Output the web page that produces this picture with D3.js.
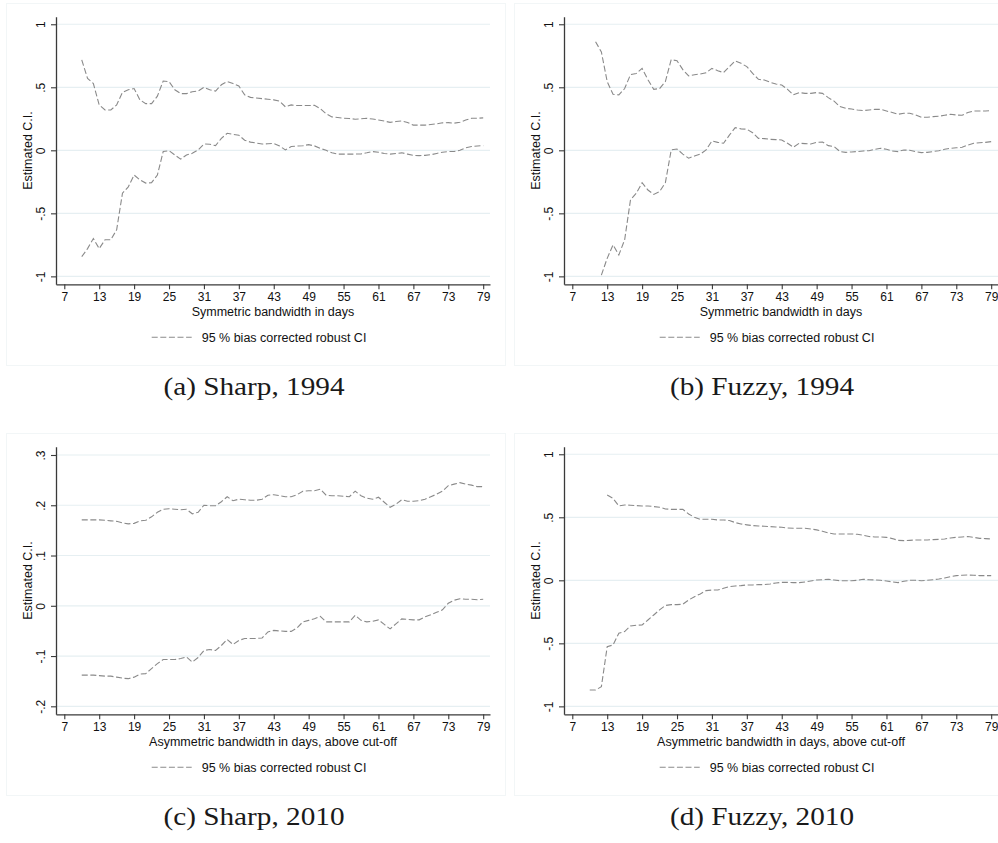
<!DOCTYPE html>
<html><head><meta charset="utf-8">
<script src="https://cdn.jsdelivr.net/npm/d3@7"></script>
<style>body{margin:0;background:#fff}svg{display:block}</style>
</head><body>
<svg id="chart" width="998" height="843"></svg>
<script>
// ---------- data ----------
const xTickValues = [7, 13, 19, 25, 31, 37, 43, 49, 55, 61, 67, 73, 79];

const yTicksWide = [-1, -0.5, 0, 0.5, 1];
const yTickLabelsWide = ["-1", "-.5", "0", ".5", "1"];
const yTicksNarrow = [-0.2, -0.1, 0, 0.1, 0.2, 0.3];
const yTickLabelsNarrow = ["-.2", "-.1", "0", ".1", ".2", ".3"];

const captions = ["(a) Sharp, 1994", "(b) Fuzzy, 1994", "(c) Sharp, 2010", "(d) Fuzzy, 2010"];
const xTitles = ["Symmetric bandwidth in days", "Symmetric bandwidth in days",
  "Asymmetric bandwidth in days, above cut-off", "Asymmetric bandwidth in days, above cut-off"];
const yTitle = "Estimated C.I.";
const legendLabel = "95 % bias corrected robust CI";

// first day of each series
const aUpperStart = 10, aLowerStart = 10;
const bUpperStart = 11, bLowerStart = 12;
const cUpperStart = 10, cLowerStart = 10;
const dUpperStart = 13, dLowerStart = 10;

const aUpper = [0.717,0.57,0.53,0.36,0.32,0.32,0.36,0.46,0.48,0.49,
  0.40,0.37,0.37,0.43,0.55,0.545,0.48,0.45,0.45,0.465,
  0.47,0.50,0.48,0.47,0.52,0.545,0.53,0.51,0.44,0.42,
  0.415,0.41,0.405,0.40,0.39,0.345,0.36,0.355,0.355,0.355,
  0.357,0.33,0.29,0.265,0.26,0.255,0.252,0.247,0.25,0.254,
  0.248,0.24,0.232,0.222,0.228,0.233,0.22,0.20,0.20,0.20,
  0.205,0.21,0.218,0.22,0.215,0.222,0.24,0.254,0.255,0.257];
const aLower = [-0.844,-0.78,-0.70,-0.78,-0.71,-0.71,-0.63,-0.34,-0.29,-0.196,
  -0.235,-0.26,-0.257,-0.196,-0.01,-0.003,-0.037,-0.07,-0.037,-0.024,
  0.003,0.05,0.048,0.037,0.095,0.135,0.127,0.12,0.08,0.065,
  0.058,0.05,0.052,0.055,0.035,0.003,0.03,0.034,0.036,0.045,
  0.035,0.015,0.0,-0.02,-0.03,-0.03,-0.03,-0.03,-0.028,-0.02,
  -0.01,-0.015,-0.025,-0.03,-0.025,-0.02,-0.03,-0.04,-0.042,-0.04,
  -0.035,-0.025,-0.015,-0.01,-0.01,0.0,0.02,0.03,0.034,0.037];

const bUpper = [0.862,0.78,0.545,0.444,0.44,0.49,0.60,0.61,0.65,
  0.56,0.484,0.49,0.545,0.72,0.71,0.64,0.59,0.60,0.605,
  0.616,0.65,0.632,0.616,0.664,0.71,0.69,0.664,0.61,0.563,
  0.558,0.54,0.526,0.518,0.484,0.44,0.458,0.452,0.452,0.458,
  0.452,0.418,0.39,0.347,0.333,0.328,0.32,0.315,0.32,0.325,
  0.325,0.312,0.30,0.286,0.294,0.294,0.28,0.262,0.262,0.267,
  0.27,0.278,0.286,0.28,0.278,0.30,0.312,0.312,0.312,0.315];
const bLower = [-0.99,-0.857,-0.75,-0.83,-0.71,-0.394,-0.34,-0.257,
  -0.315,-0.35,-0.328,-0.257,0.003,0.01,-0.03,-0.063,-0.045,-0.03,
  0.003,0.074,0.063,0.056,0.12,0.18,0.17,0.167,0.14,0.095,
  0.093,0.087,0.085,0.082,0.056,0.024,0.056,0.053,0.05,0.063,
  0.066,0.037,0.03,-0.01,-0.016,-0.013,-0.01,-0.005,-0.003,0.008,
  0.016,0.008,-0.005,-0.01,0.003,0.0,-0.01,-0.018,-0.016,-0.01,
  -0.003,0.008,0.016,0.02,0.024,0.042,0.056,0.06,0.063,0.069];

const cUpper = [0.171,0.171,0.171,0.171,0.17,0.169,0.168,0.165,0.163,0.164,
  0.169,0.17,0.177,0.186,0.192,0.193,0.192,0.191,0.192,0.183,
  0.186,0.2,0.199,0.199,0.207,0.217,0.209,0.212,0.211,0.21,
  0.21,0.212,0.22,0.221,0.219,0.217,0.217,0.221,0.228,0.229,
  0.229,0.232,0.22,0.219,0.219,0.218,0.217,0.228,0.219,0.214,
  0.212,0.216,0.206,0.196,0.202,0.211,0.208,0.208,0.209,0.212,
  0.217,0.222,0.228,0.239,0.242,0.245,0.242,0.24,0.237,0.237];
const cLower = [-0.138,-0.138,-0.138,-0.139,-0.14,-0.14,-0.142,-0.144,-0.145,-0.142,
  -0.136,-0.135,-0.125,-0.115,-0.107,-0.107,-0.107,-0.105,-0.102,-0.112,
  -0.103,-0.089,-0.087,-0.089,-0.079,-0.067,-0.077,-0.069,-0.065,-0.065,
  -0.065,-0.064,-0.052,-0.049,-0.05,-0.051,-0.051,-0.044,-0.032,-0.029,
  -0.026,-0.021,-0.032,-0.032,-0.032,-0.032,-0.032,-0.019,-0.029,-0.032,
  -0.031,-0.028,-0.037,-0.046,-0.036,-0.026,-0.027,-0.028,-0.028,-0.022,
  -0.018,-0.013,-0.008,0.005,0.011,0.014,0.013,0.013,0.012,0.013];

const dUpper = [0.677,0.65,0.59,0.598,0.595,0.593,0.59,
  0.59,0.585,0.58,0.566,0.563,0.563,0.563,0.526,0.50,0.484,
  0.484,0.484,0.479,0.479,0.474,0.458,0.447,0.44,0.434,0.431,
  0.429,0.426,0.423,0.421,0.415,0.413,0.413,0.413,0.407,0.40,
  0.389,0.376,0.368,0.368,0.368,0.368,0.365,0.357,0.347,0.344,
  0.344,0.341,0.331,0.317,0.315,0.317,0.32,0.32,0.32,0.323,
  0.325,0.328,0.336,0.341,0.344,0.347,0.341,0.333,0.331,0.328];
const dLower = [-0.87,-0.87,-0.844,-0.526,-0.513,-0.42,-0.407,-0.362,-0.357,-0.354,
  -0.315,-0.275,-0.235,-0.2,-0.193,-0.193,-0.19,-0.156,-0.13,-0.108,
  -0.082,-0.077,-0.077,-0.063,-0.05,-0.045,-0.042,-0.037,-0.037,-0.034,
  -0.034,-0.029,-0.021,-0.016,-0.016,-0.018,-0.018,-0.013,-0.005,0.003,
  0.005,0.008,0.003,-0.003,-0.003,-0.003,0.0,0.008,0.005,0.003,
  0.0,-0.005,-0.013,-0.018,-0.008,0.0,0.0,-0.003,0.0,0.005,
  0.01,0.018,0.029,0.037,0.04,0.042,0.04,0.037,0.037,0.037];

// ---------- layout ----------
const W = 998, H = 843;
const panelOffsets = [[0,0],[508,0],[0,430],[508,430]];
const plotL = 56, plotR = 490, plotT = 16.7, plotB = 284.3;
const xDomain = [5.575, 80.17];
const yDomainWide = [-1.063, 1.06];
const yDomainNarrow = [-0.2159, 0.3165];

const toPts = (start, vals) => vals.map((v, i) => ({x: start + i, y: v}));

const panels = [
  {series: [toPts(aUpperStart, aUpper), toPts(aLowerStart, aLower)], yDom: yDomainWide, yT: yTicksWide, yL: yTickLabelsWide},
  {series: [toPts(bUpperStart, bUpper), toPts(bLowerStart, bLower)], yDom: yDomainWide, yT: yTicksWide, yL: yTickLabelsWide},
  {series: [toPts(cUpperStart, cUpper), toPts(cLowerStart, cLower)], yDom: yDomainNarrow, yT: yTicksNarrow, yL: yTickLabelsNarrow},
  {series: [toPts(dUpperStart, dUpper), toPts(dLowerStart, dLower)], yDom: yDomainWide, yT: yTicksWide, yL: yTickLabelsWide}
];

const sans = "'Liberation Sans', Arial, Helvetica, sans-serif";
const serif = "'Liberation Serif', 'Times New Roman', serif";
const lineColor = "#8a8a8a";
const dash = "6,2.6";
const gridColor = "#e6eff2";
const axisColor = "#3a3a3a";

const svg = d3.select("#chart");
svg.append("rect").attr("width", W).attr("height", H).attr("fill", "#fff");

panels.forEach((p, i) => {
  const [ox, oy] = panelOffsets[i];
  const g = svg.append("g").attr("transform", `translate(${ox},${oy})`);

  // faint graph-region frame
  g.append("rect").attr("x", 6.5).attr("y", 3.5).attr("width", 499).attr("height", 362)
    .attr("fill", "none").attr("stroke", "#f2f6f7").attr("stroke-width", 1);

  const x = d3.scaleLinear().domain(xDomain).range([plotL, plotR]);
  const y = d3.scaleLinear().domain(p.yDom).range([plotB, plotT]);

  // gridlines
  g.append("g").selectAll("line").data(p.yT).join("line")
    .attr("x1", plotL).attr("x2", plotR)
    .attr("y1", d => y(d)).attr("y2", d => y(d))
    .attr("stroke", gridColor).attr("stroke-width", 1.2);

  // series
  const line = d3.line().x(d => x(d.x)).y(d => y(d.y));
  p.series.forEach(s => {
    g.append("path").datum(s).attr("d", line)
      .attr("fill", "none").attr("stroke", lineColor).attr("stroke-width", 1.1)
      .attr("stroke-dasharray", dash);
  });

  // y axis
  const ya = g.append("g").attr("transform", `translate(${plotL},0)`)
    .call(d3.axisLeft(y).tickValues(p.yT).tickSize(5).tickSizeOuter(0)
      .tickFormat((d, k) => p.yL[k]));
  ya.select(".domain").attr("stroke", axisColor).attr("stroke-width", 1.3);
  ya.selectAll(".tick line").attr("stroke", axisColor).attr("stroke-width", 1.1);
  ya.selectAll(".tick text")
    .attr("transform", "rotate(-90)")
    .attr("x", 0).attr("y", -11).attr("dy", 0)
    .attr("text-anchor", "middle")
    .attr("font-family", sans).attr("font-size", 12).attr("fill", "#111");

  // x axis
  const xa = g.append("g").attr("transform", `translate(0,${plotB})`)
    .call(d3.axisBottom(x).tickValues(xTickValues).tickSize(5).tickSizeOuter(0));
  xa.select(".domain").attr("stroke", axisColor).attr("stroke-width", 1.3);
  xa.selectAll(".tick line").attr("stroke", axisColor).attr("stroke-width", 1.1);
  xa.selectAll(".tick text").attr("font-family", sans).attr("font-size", 12).attr("fill", "#111");

  // axis titles
  g.append("text").attr("x", (plotL + plotR) / 2).attr("y", 316)
    .attr("text-anchor", "middle").attr("font-family", sans).attr("font-size", 12.5)
    .attr("fill", "#111").text(xTitles[i]);
  g.append("text").attr("transform", `translate(32,${(plotT + plotB) / 2}) rotate(-90)`)
    .attr("text-anchor", "middle").attr("font-family", sans).attr("font-size", 12.5)
    .attr("fill", "#111").text(yTitle);

  // legend
  g.append("line").attr("x1", 151.7).attr("x2", 191.7).attr("y1", 337.3).attr("y2", 337.3)
    .attr("stroke", lineColor).attr("stroke-width", 1.1).attr("stroke-dasharray", dash);
  g.append("text").attr("x", 201.7).attr("y", 341.7)
    .attr("font-family", sans).attr("font-size", 12.5).attr("fill", "#111").text(legendLabel);

  // caption
  const cap = g.append("text").attr("x", 254).attr("y", 395)
    .attr("text-anchor", "middle").attr("font-family", serif).attr("font-size", 25)
    .attr("fill", "#1a1a1a").text(captions[i]);
  const natural = cap.node().getComputedTextLength();
  cap.attr("textLength", natural * 1.17).attr("lengthAdjust", "spacingAndGlyphs");
});
</script>
</body></html>
